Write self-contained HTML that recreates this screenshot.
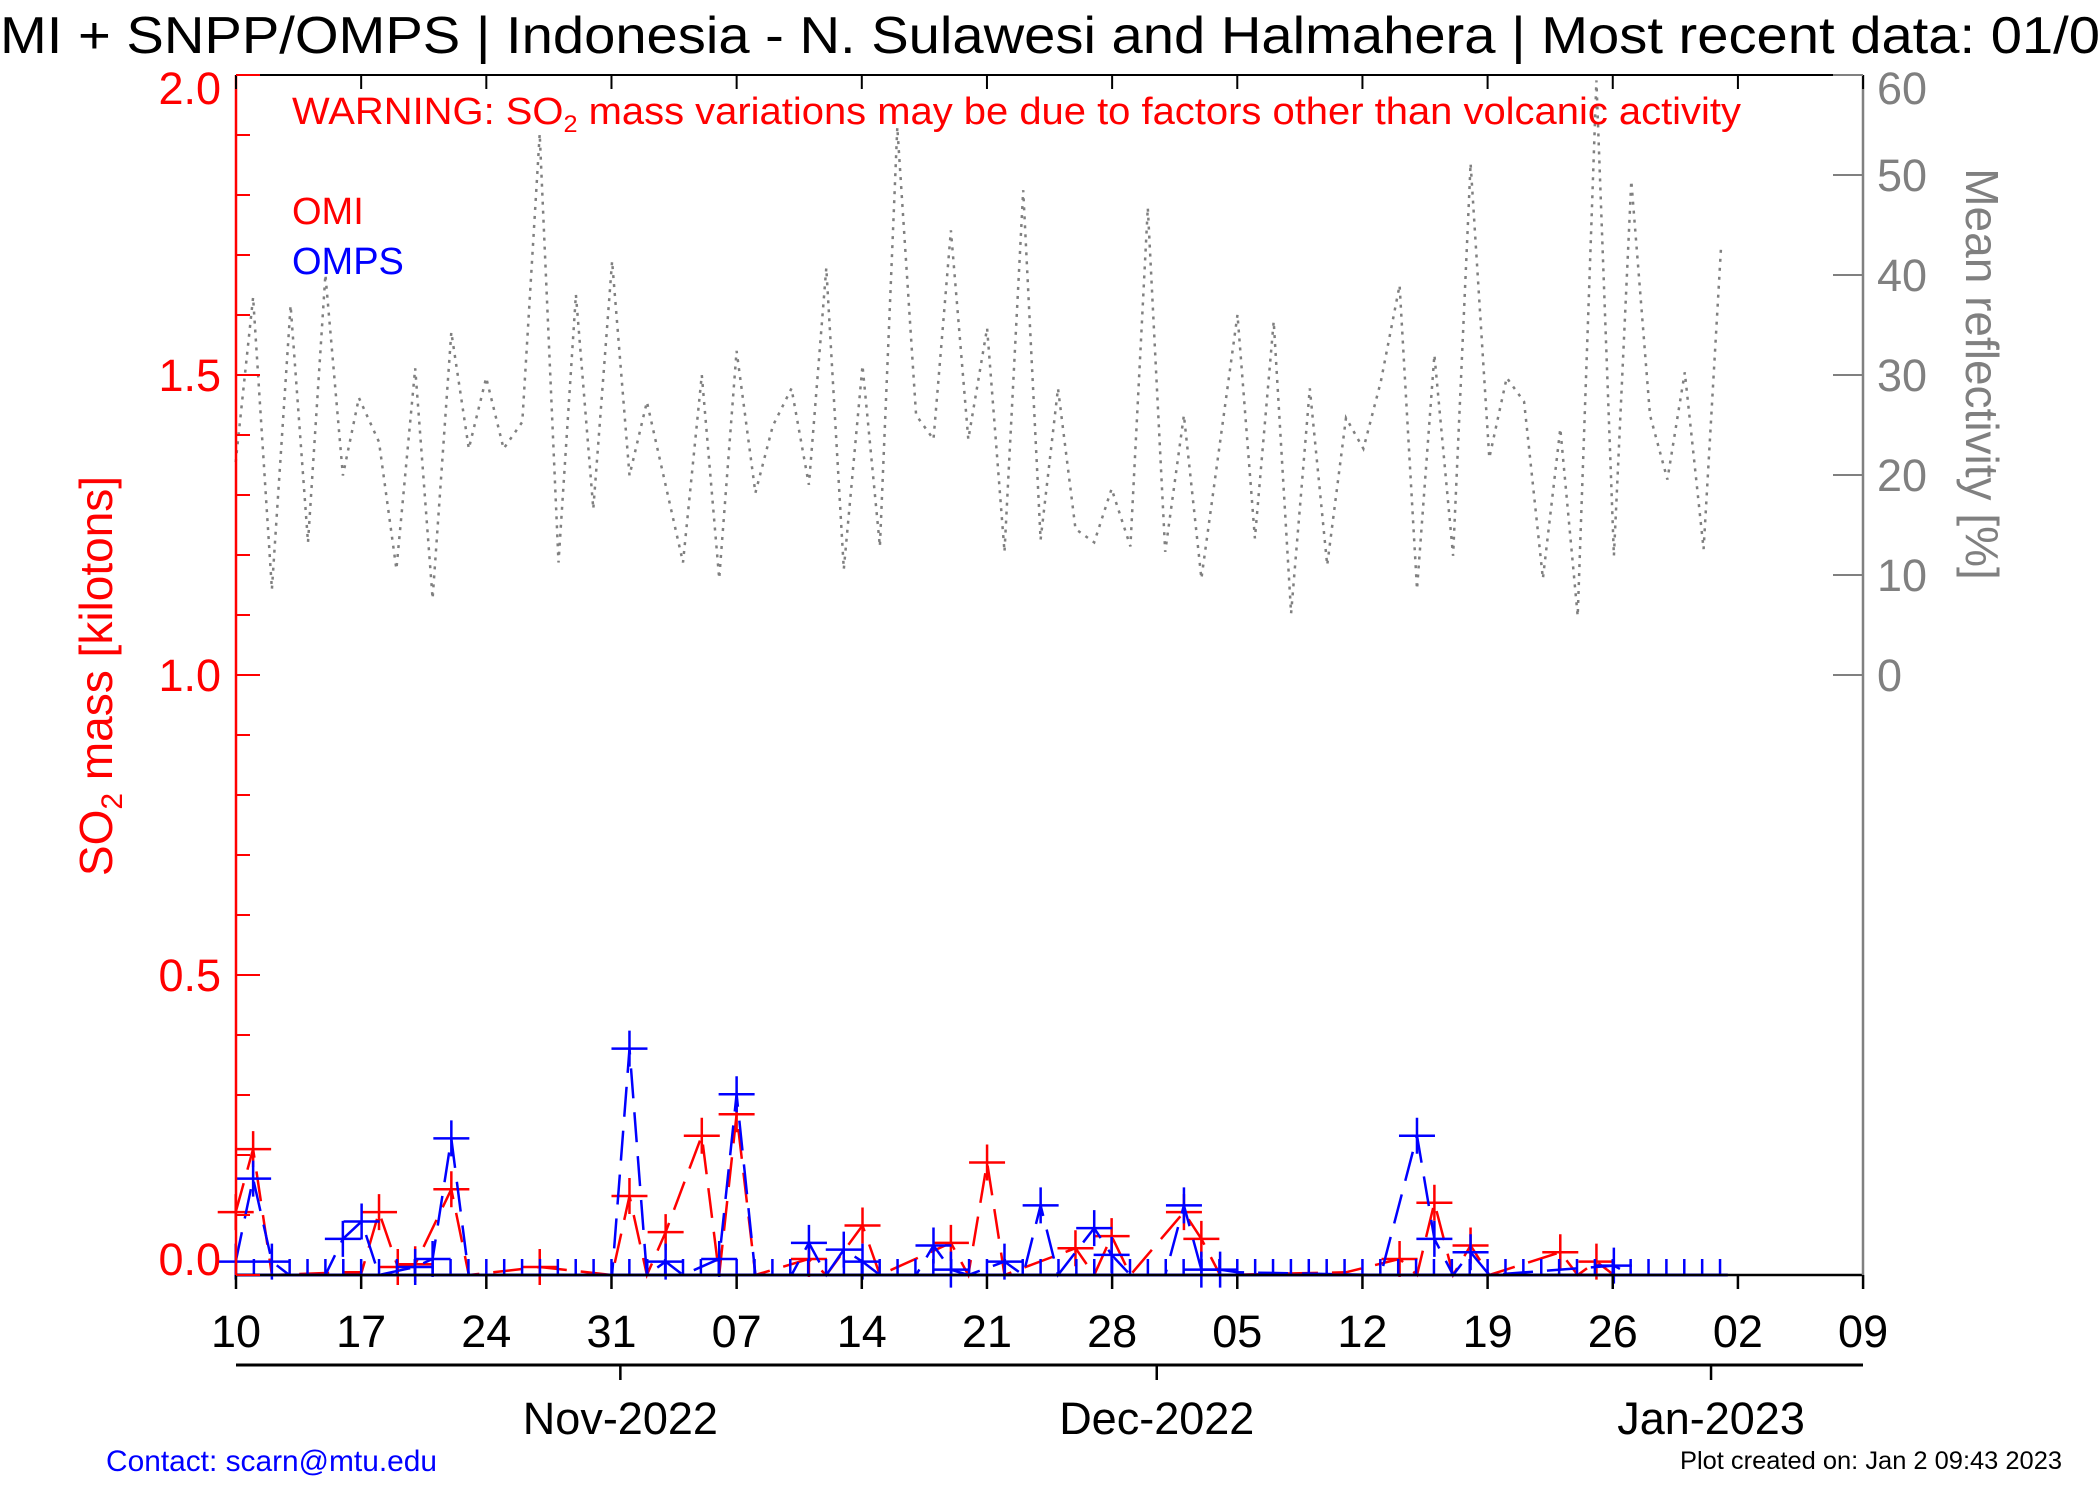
<!DOCTYPE html>
<html><head><meta charset="utf-8"><style>
html,body{margin:0;padding:0;background:#fff;}
svg{display:block;font-family:"Liberation Sans",sans-serif;}
</style></head><body>
<svg id="s" width="2100" height="1500" viewBox="0 0 2100 1500" xmlns="http://www.w3.org/2000/svg">
<rect width="2100" height="1500" fill="#fff"/>
<text x="0" y="53" font-size="52" textLength="2100" lengthAdjust="spacingAndGlyphs">MI + SNPP/OMPS | Indonesia - N. Sulawesi and Halmahera | Most recent data: 01/0</text>
<g id="plot"></g>
<text x="292" y="124" font-size="38" fill="#f00" textLength="1449" lengthAdjust="spacingAndGlyphs">WARNING: SO<tspan font-size="24" dy="8">2</tspan><tspan dy="-8"> mass variations may be due to factors other than volcanic activity</tspan></text>
<text x="292" y="224" font-size="38" fill="#f00">OMI</text>
<text x="292" y="274" font-size="38" fill="#00f">OMPS</text>
<text transform="translate(112,676) rotate(-90)" text-anchor="middle" font-size="46" fill="#f00">SO<tspan font-size="30" dy="10">2</tspan><tspan dy="-10"> mass [kilotons]</tspan></text>
<text transform="translate(1966,374) rotate(90)" text-anchor="middle" font-size="46" fill="#808080">Mean reflectivity [%]</text>
<text x="106" y="1471" font-size="30" fill="#00f" textLength="331" lengthAdjust="spacingAndGlyphs">Contact: scarn@mtu.edu</text>
<text x="2062" y="1469" font-size="25" text-anchor="end" textLength="382" lengthAdjust="spacingAndGlyphs">Plot created on: Jan  2 09:43 2023</text>
</svg>
<script>
var g=document.getElementById('plot'),h='';
function X(d){return 236+17.88*d;}
var L=236,R=1863,T=75,B=1275;
var refl=[[176,345],[189,222],[203,440],[217,228],[230,405],[243,205],[256,355],[268,297],[283,330],[296,425],[310,275],[323,447],[337,248],[350,335],[363,282],[376,335],[390,315],[403,100],[417,420],[430,220],[443,380],[457,195],[470,355],[483,300],[510,420],[524,280],[537,432],[550,262],[564,368],[577,318],[591,290],[604,362],[617,200],[630,425],[644,273],[657,408],[670,95],[684,310],[697,328],[710,172],[723,328],[737,245],[750,412],[764,142],[777,403],[790,290],[803,395],[817,405],[830,365],[844,408],[857,155],[870,412],[884,310],[897,432],[924,235],[937,402],[951,240],[964,458],[978,290],[991,422],[1005,312],[1018,335],[1031,285],[1045,213],[1058,440],[1071,265],[1085,415],[1098,122],[1112,342],[1125,282],[1138,300],[1152,432],[1165,320],[1178,460],[1192,60],[1205,415],[1218,135],[1232,310],[1245,358],[1258,278],[1272,410],[1285,185]];
var k=1.3393;
function pts(a){return a.map(function(p){return (p[0]*k).toFixed(1)+','+(p[1]*k).toFixed(1)}).join(' ');}
h+='<polyline points="'+pts(refl)+'" fill="none" stroke="#808080" stroke-width="2.5" stroke-dasharray="3,6"/>';
var omi=[[176,905],[189,858],[203,952],[256,950],[270,950],[283,905],[297,946],[310,944],[337,888],[350,952],[403,946],[457,952],[470,893],[483,952],[497,920],[524,848],[537,952],[550,832],[564,952],[604,940],[617,952],[644,915],[657,952],[710,928],[723,952],[737,868],[750,952],[803,932],[817,952],[830,923],[844,952],[884,905],[897,925],[911,952],[1005,950],[1045,940],[1058,952],[1071,898],[1085,952],[1098,930],[1112,952],[1165,935],[1178,952],[1192,942],[1205,952]];
var omps=[[176,942],[189,880],[203,942],[216,952],[243,952],[256,925],[270,912],[283,952],[310,946],[323,940],[337,850],[350,952],[457,952],[470,783],[483,952],[497,942],[510,952],[537,940],[550,817],[564,952],[591,952],[604,928],[617,952],[630,933],[644,942],[657,952],[684,952],[697,930],[710,948],[723,952],[750,942],[764,952],[777,900],[790,952],[817,917],[830,937],[844,952],[870,952],[884,900],[897,948],[911,948],[924,950],[1031,952],[1058,848],[1071,925],[1085,952],[1098,935],[1112,952],[1205,945],[1218,952]];
function series(a,c){
 h+='<line x1="'+L+'" y1="'+B+'" x2="'+(1290*k)+'" y2="'+B+'" stroke="'+c+'" stroke-width="3"/>';
 h+='<polyline points="'+pts(a)+'" fill="none" stroke="'+c+'" stroke-width="2.5" stroke-dasharray="30,14"/>';
 a.forEach(function(p){if(p[1]<950){var x=p[0]*k,y=p[1]*k;h+='<path d="M'+(x-18)+','+y+'H'+(x+18)+'M'+x+','+(y-18)+'V'+(y+18)+'" stroke="'+c+'" stroke-width="2.5"/>';}});
}
series(omi,'#f00');series(omps,'#00f');
for(var d=0;d<=83;d++){var x=X(d);h+='<line x1="'+x+'" y1="'+(B-16)+'" x2="'+x+'" y2="'+B+'" stroke="#00f" stroke-width="2.5"/>';}
h+='<line x1="'+L+'" y1="'+T+'" x2="'+R+'" y2="'+T+'" stroke="#000" stroke-width="2"/>';
h+='<line x1="'+L+'" y1="'+B+'" x2="'+R+'" y2="'+B+'" stroke="#000" stroke-width="2.5"/>';
h+='<line x1="'+L+'" y1="'+T+'" x2="'+L+'" y2="'+B+'" stroke="#f00" stroke-width="2.5"/>';
h+='<line x1="'+R+'" y1="'+T+'" x2="'+R+'" y2="'+B+'" stroke="#808080" stroke-width="2.5"/>';
var lab=['10','17','24','31','07','14','21','28','05','12','19','26','02','09'];
for(var i=0;i<14;i++){var x=X(7*i);
 h+='<line x1="'+x+'" y1="'+T+'" x2="'+x+'" y2="'+(T+14)+'" stroke="#000" stroke-width="2"/>';
 h+='<line x1="'+x+'" y1="'+B+'" x2="'+x+'" y2="'+(B+14)+'" stroke="#000" stroke-width="2.5"/>';
 h+='<text x="'+x+'" y="1347" font-size="45" text-anchor="middle">'+lab[i]+'</text>';}
for(var j=0;j<=20;j++){var y=B-60*j,w=(j%5==0)?24:14;
 h+='<line x1="'+L+'" y1="'+y+'" x2="'+(L+w)+'" y2="'+y+'" stroke="#f00" stroke-width="2"/>';
 var off=(j==0)?-16:(j==20?13:0);
 if(j%5==0)h+='<text x="221" y="'+(y+16+off)+'" font-size="45" text-anchor="end" fill="#f00">'+(j/10).toFixed(1)+'</text>';}
for(var r=0;r<=60;r+=10){var y=675-10*r;
 h+='<line x1="'+(R-30)+'" y1="'+y+'" x2="'+R+'" y2="'+y+'" stroke="#808080" stroke-width="2"/>';
 h+='<text x="1877" y="'+(y+16+(r==60?13:0))+'" font-size="45" fill="#808080">'+r+'</text>';}
h+='<line x1="'+L+'" y1="1365" x2="'+R+'" y2="1365" stroke="#000" stroke-width="3"/>';
[[22,'Nov-2022'],[52,'Dec-2022'],[83,'Jan-2023']].forEach(function(m){var x=X(m[0])-9;
 h+='<line x1="'+x+'" y1="1365" x2="'+x+'" y2="1380" stroke="#000" stroke-width="2.5"/>';
 h+='<text x="'+x+'" y="1434" font-size="45" text-anchor="middle">'+m[1]+'</text>';});
g.innerHTML=h;
</script>
</body></html>
